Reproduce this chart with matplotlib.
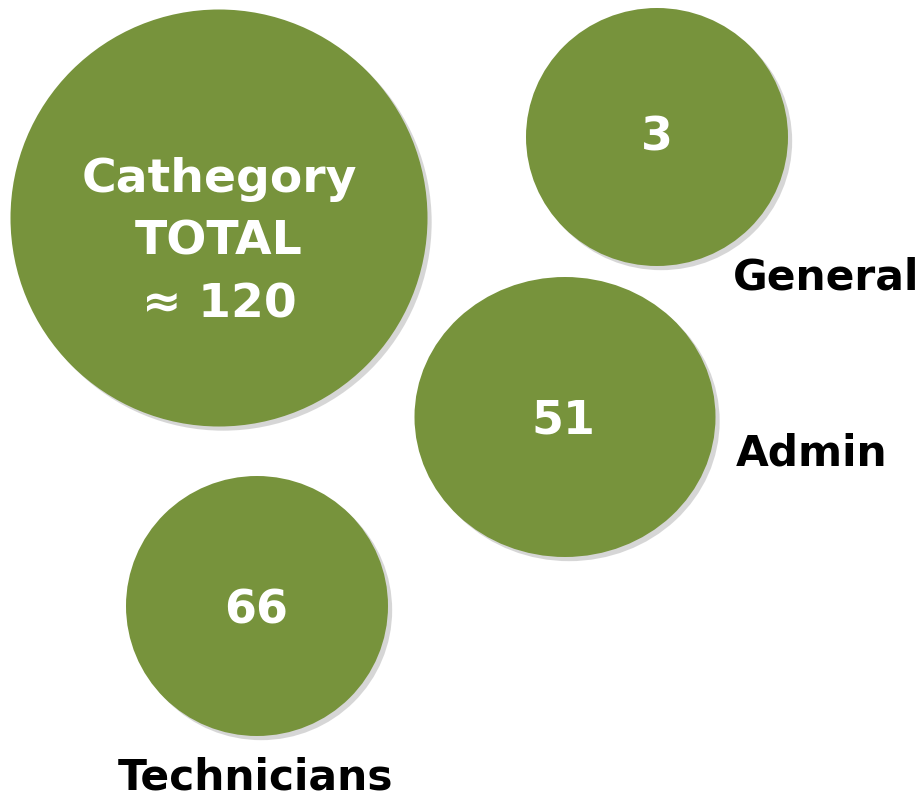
"""Category bubbles: total and breakdown by staff group."""

import matplotlib

matplotlib.use("Agg")
import matplotlib.pyplot as plt
import matplotlib.patheffects as pe
from matplotlib.patches import Ellipse

# data
total_label = "Cathegory\nTOTAL\n\u2248 120"
categories = ["General", "Admin", "Technicians"]
counts = [3, 51, 66]

# layout in pixel space (x, y, width, height), y from top
total_box = (219, 218, 417, 417)
bubble_boxes = [(657, 137, 262, 258), (565, 417, 301, 280), (257, 606, 262, 260)]
number_pos = [(657, 138), (563, 421), (256, 611)]
label_pos = [(826, 277), (812, 454), (256, 777)]

GREEN = "#77933C"
FONT = "DejaVu Sans"


def bubble(ax, box):
    x, y, w, h = box
    e = Ellipse((x, y), w, h, facecolor=GREEN, edgecolor="none", zorder=2)
    e.set_path_effects([
        pe.SimplePatchShadow(offset=(3, -3), shadow_rgbFace="#8c8c8c", alpha=0.35),
        pe.Normal(),
    ])
    ax.add_patch(e)


def main() -> None:
    fig = plt.figure(figsize=(9.24, 8), dpi=100)
    ax = fig.add_axes([0, 0, 1, 1])
    ax.set_xlim(0, 924)
    ax.set_ylim(800, 0)
    ax.set_aspect("equal")
    ax.axis("off")

    bubble(ax, total_box)
    ax.text(total_box[0], total_box[1] + 24, total_label, ha="center", va="center",
            color="white", fontsize=34, fontweight="bold", family=FONT,
            linespacing=1.5, zorder=3)

    for box, n, (nx, ny), name, (lx, ly) in zip(bubble_boxes, counts, number_pos,
                                                categories, label_pos):
        bubble(ax, box)
        ax.text(nx, ny, str(n), ha="center", va="center", color="white",
                fontsize=33, fontweight="bold", family=FONT, zorder=3)
        ax.text(lx, ly, name, ha="center", va="center", color="black",
                fontsize=30.5, fontweight="bold", family=FONT, zorder=3)

    fig.savefig("out.png", dpi=100, facecolor="white")
    plt.close(fig)


if __name__ == "__main__":
    main()
